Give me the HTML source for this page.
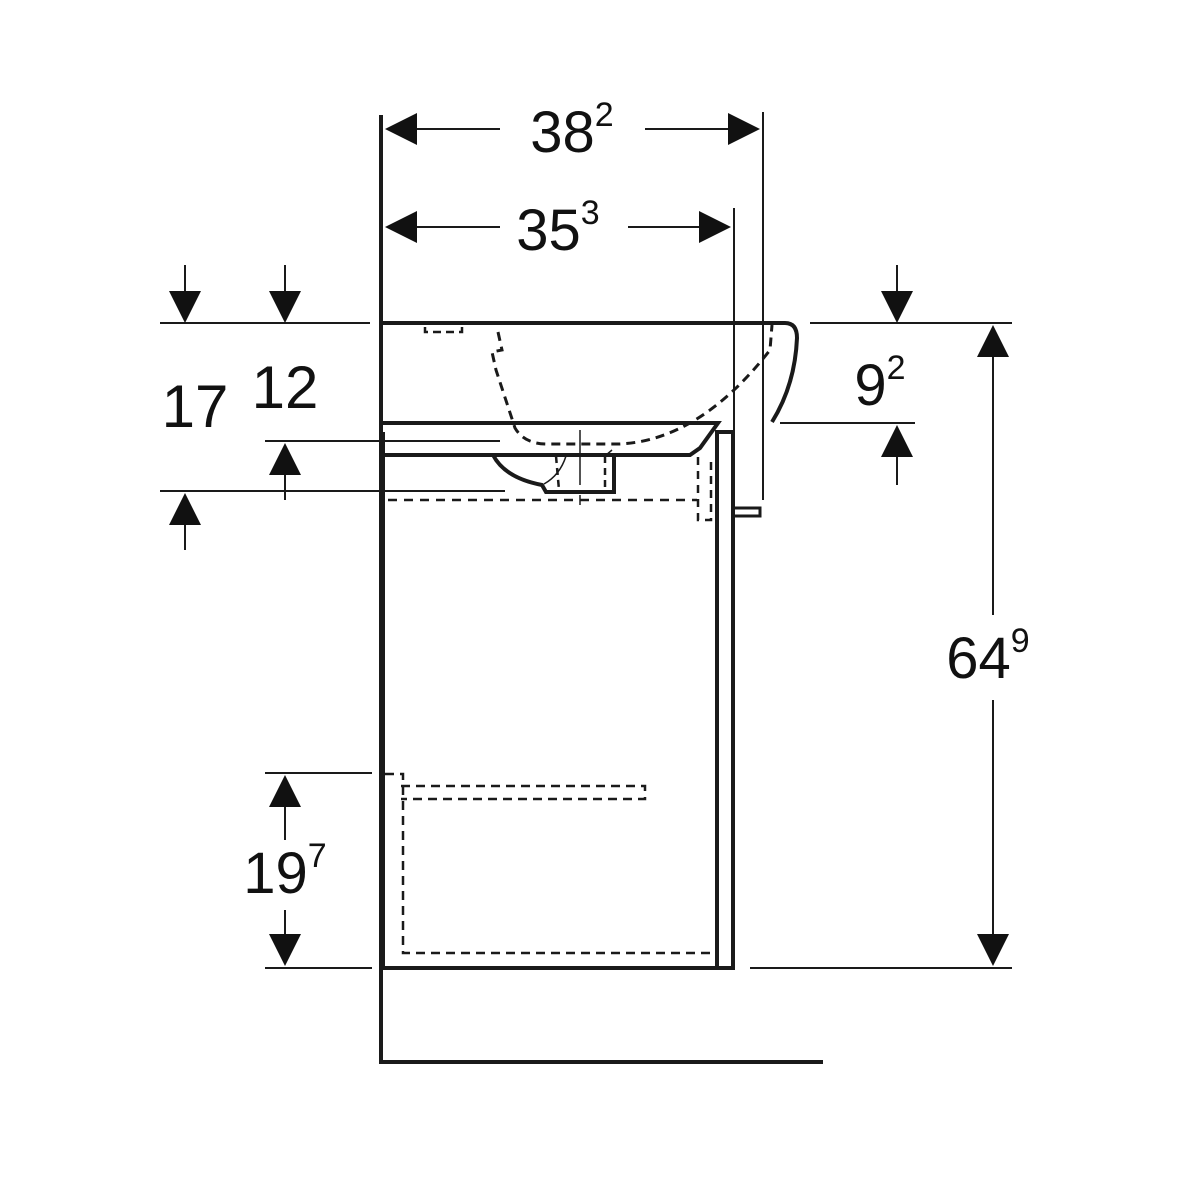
<!DOCTYPE html>
<html><head><style>html,body{margin:0;padding:0;background:#fff}svg{display:block}</style></head>
<body>
<svg width="1200" height="1200" viewBox="0 0 1200 1200" xmlns="http://www.w3.org/2000/svg" font-family="Liberation Sans, sans-serif" fill="none" stroke="#1a1a1a">
<defs>
<path id="ad" d="M-16,-32 L16,-32 L0,0 Z" fill="#111" stroke="none"/>
<path id="ar" d="M-32,-16 L-32,16 L0,0 Z" fill="#111" stroke="none"/>
</defs>
<!-- wall and floor -->
<path d="M381,115 V1062 H823" stroke-width="4"/>
<!-- top dims -->
<line x1="763" y1="112" x2="763" y2="500" stroke-width="2"/>
<line x1="734" y1="208" x2="734" y2="430" stroke-width="2"/>
<line x1="400" y1="129" x2="500" y2="129" stroke-width="2"/>
<line x1="645" y1="129" x2="745" y2="129" stroke-width="2"/>
<use href="#ar" transform="translate(385,129) rotate(180)"/>
<use href="#ar" transform="translate(760,129)"/>
<text x="572" y="152" font-size="58" fill="#111" stroke="none" text-anchor="middle">38<tspan font-size="34" dy="-26">2</tspan></text>
<line x1="400" y1="227" x2="500" y2="227" stroke-width="2"/>
<line x1="628" y1="227" x2="715" y2="227" stroke-width="2"/>
<use href="#ar" transform="translate(385,227) rotate(180)"/>
<use href="#ar" transform="translate(731,227)"/>
<text x="558" y="250" font-size="58" fill="#111" stroke="none" text-anchor="middle">35<tspan font-size="34" dy="-26">3</tspan></text>
<!-- basin -->
<path d="M383,323 H785 Q797,323 797,338 Q795,385 772,422" stroke-width="4"/>
<path d="M383,423 H718 L700,448 L690,455 H383" stroke-width="4"/>
<path d="M493,455 Q505,478 542,485 L546,492 H614 V455" stroke-width="4"/>
<path d="M425,327 V332 H462 V327" stroke-width="2.5" stroke-dasharray="8,5"/>
<path d="M498,332 L502,350 L492,352 L496,370 L515,428 Q525,445 550,444 L620,444 Q700,440 770,350 L772,325" stroke-width="3" stroke-dasharray="9,6"/>
<line x1="580" y1="430" x2="580" y2="485" stroke-width="1.5"/>
<path d="M556,456 L559,490 M605,456 V490" stroke-width="2.5" stroke-dasharray="7,5"/>
<path d="M544,484 Q560,475 566,456 M605,456 L612,450" stroke-width="1.5"/>
<!-- cabinet -->
<path d="M383,432 V968 H733 V432 H717 V968" stroke-width="4"/>
<path d="M733,508 H760 V516 H733" stroke-width="3"/>
<line x1="388" y1="500" x2="697" y2="500" stroke-width="2.5" stroke-dasharray="9,7"/>
<path d="M698,457 V520 H711 V457" stroke-width="2.5" stroke-dasharray="8,6"/>
<line x1="580" y1="495" x2="580" y2="505" stroke-width="1.5"/>
<path d="M385,774 H403 V953 H715" stroke-width="2.5" stroke-dasharray="9,6"/>
<path d="M401,786 H645 V799 H401" stroke-width="2.5" stroke-dasharray="9,6"/>
<!-- left dims -->
<line x1="160" y1="323" x2="370" y2="323" stroke-width="2"/>
<line x1="265" y1="441" x2="500" y2="441" stroke-width="2"/>
<line x1="160" y1="491" x2="505" y2="491" stroke-width="2"/>
<line x1="185" y1="265" x2="185" y2="300" stroke-width="2"/>
<line x1="285" y1="265" x2="285" y2="300" stroke-width="2"/>
<use href="#ad" transform="translate(185,323)"/>
<use href="#ad" transform="translate(285,323)"/>
<line x1="285" y1="470" x2="285" y2="500" stroke-width="2"/>
<use href="#ad" transform="translate(285,443) rotate(180)"/>
<line x1="185" y1="520" x2="185" y2="550" stroke-width="2"/>
<use href="#ad" transform="translate(185,493) rotate(180)"/>
<text x="195" y="427" font-size="60" fill="#111" stroke="none" text-anchor="middle">17</text>
<text x="285" y="408" font-size="60" fill="#111" stroke="none" text-anchor="middle">12</text>
<!-- 19^7 -->
<line x1="265" y1="773" x2="372" y2="773" stroke-width="2"/>
<line x1="265" y1="968" x2="372" y2="968" stroke-width="2"/>
<line x1="285" y1="800" x2="285" y2="840" stroke-width="2"/>
<line x1="285" y1="910" x2="285" y2="940" stroke-width="2"/>
<use href="#ad" transform="translate(285,775) rotate(180)"/>
<use href="#ad" transform="translate(285,966)"/>
<text x="285" y="893" font-size="58" fill="#111" stroke="none" text-anchor="middle">19<tspan font-size="34" dy="-26">7</tspan></text>
<!-- right dims -->
<line x1="810" y1="323" x2="1012" y2="323" stroke-width="2"/>
<line x1="780" y1="423" x2="915" y2="423" stroke-width="2"/>
<line x1="750" y1="968" x2="1012" y2="968" stroke-width="2"/>
<line x1="897" y1="265" x2="897" y2="300" stroke-width="2"/>
<use href="#ad" transform="translate(897,323)"/>
<line x1="897" y1="450" x2="897" y2="485" stroke-width="2"/>
<use href="#ad" transform="translate(897,425) rotate(180)"/>
<text x="880" y="405" font-size="58" fill="#111" stroke="none" text-anchor="middle">9<tspan font-size="34" dy="-26">2</tspan></text>
<line x1="993" y1="355" x2="993" y2="615" stroke-width="2"/>
<line x1="993" y1="700" x2="993" y2="940" stroke-width="2"/>
<use href="#ad" transform="translate(993,325) rotate(180)"/>
<use href="#ad" transform="translate(993,966)"/>
<text x="988" y="678" font-size="58" fill="#111" stroke="none" text-anchor="middle">64<tspan font-size="34" dy="-26">9</tspan></text>
</svg>
</body></html>
